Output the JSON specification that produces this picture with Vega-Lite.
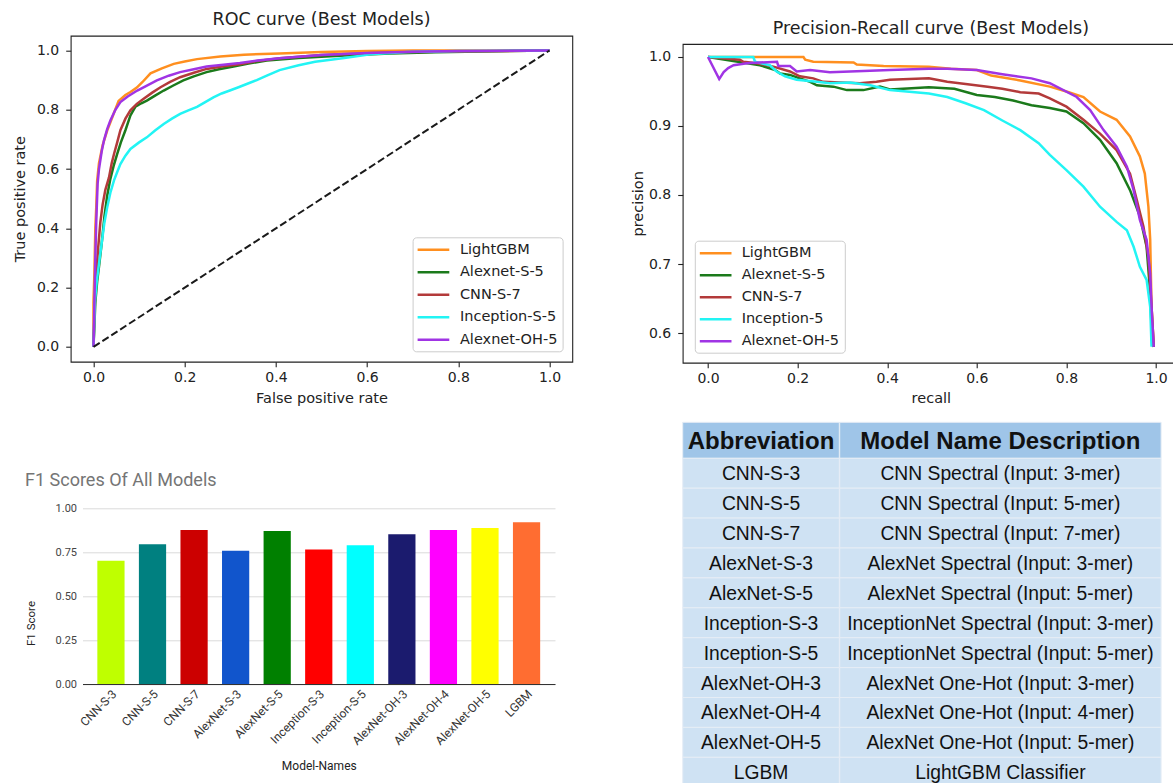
{
  "$schema": "https://vega.github.io/schema/vega-lite/v6.json",
  "autosize": {"type": "none"},
  "padding": {"left": 70.7, "top": 35.7, "right": 1102.3, "bottom": 747.3},
  "background": "white",
  "config": {
    "view": {"stroke": null},
    "axis": {"grid": false, "labelFlush": false}
  },
  "datasets": {
    "diag": [{"fpr": 0, "tpr": 0}, {"fpr": 1, "tpr": 1}],
    "roc": [
      {"model": "LightGBM", "fpr": 0, "tpr": 0}, {"model": "LightGBM", "fpr": 0, "tpr": 0.15}, {"model": "LightGBM", "fpr": 0.002, "tpr": 0.25}, {"model": "LightGBM", "fpr": 0.004, "tpr": 0.4}, {"model": "LightGBM", "fpr": 0.006, "tpr": 0.47}, {"model": "LightGBM", "fpr": 0.008, "tpr": 0.56}, {"model": "LightGBM", "fpr": 0.012, "tpr": 0.62}, {"model": "LightGBM", "fpr": 0.02, "tpr": 0.68}, {"model": "LightGBM", "fpr": 0.03, "tpr": 0.73}, {"model": "LightGBM", "fpr": 0.04, "tpr": 0.77}, {"model": "LightGBM", "fpr": 0.055, "tpr": 0.83}, {"model": "LightGBM", "fpr": 0.07, "tpr": 0.85}, {"model": "LightGBM", "fpr": 0.081, "tpr": 0.86}, {"model": "LightGBM", "fpr": 0.095, "tpr": 0.875}, {"model": "LightGBM", "fpr": 0.107, "tpr": 0.893}, {"model": "LightGBM", "fpr": 0.125, "tpr": 0.923}, {"model": "LightGBM", "fpr": 0.15, "tpr": 0.94}, {"model": "LightGBM", "fpr": 0.176, "tpr": 0.955}, {"model": "LightGBM", "fpr": 0.2, "tpr": 0.963}, {"model": "LightGBM", "fpr": 0.227, "tpr": 0.971}, {"model": "LightGBM", "fpr": 0.278, "tpr": 0.98}, {"model": "LightGBM", "fpr": 0.33, "tpr": 0.986}, {"model": "LightGBM", "fpr": 0.408, "tpr": 0.99}, {"model": "LightGBM", "fpr": 0.5, "tpr": 0.995}, {"model": "LightGBM", "fpr": 0.6, "tpr": 0.998}, {"model": "LightGBM", "fpr": 0.7, "tpr": 1}, {"model": "LightGBM", "fpr": 1, "tpr": 1},
      {"model": "Alexnet-S-5", "fpr": 0, "tpr": 0}, {"model": "Alexnet-S-5", "fpr": 0.004, "tpr": 0.15}, {"model": "Alexnet-S-5", "fpr": 0.008, "tpr": 0.22}, {"model": "Alexnet-S-5", "fpr": 0.012, "tpr": 0.27}, {"model": "Alexnet-S-5", "fpr": 0.018, "tpr": 0.35}, {"model": "Alexnet-S-5", "fpr": 0.024, "tpr": 0.44}, {"model": "Alexnet-S-5", "fpr": 0.03, "tpr": 0.51}, {"model": "Alexnet-S-5", "fpr": 0.037, "tpr": 0.567}, {"model": "Alexnet-S-5", "fpr": 0.044, "tpr": 0.61}, {"model": "Alexnet-S-5", "fpr": 0.052, "tpr": 0.651}, {"model": "Alexnet-S-5", "fpr": 0.06, "tpr": 0.69}, {"model": "Alexnet-S-5", "fpr": 0.07, "tpr": 0.731}, {"model": "Alexnet-S-5", "fpr": 0.081, "tpr": 0.781}, {"model": "Alexnet-S-5", "fpr": 0.092, "tpr": 0.811}, {"model": "Alexnet-S-5", "fpr": 0.105, "tpr": 0.822}, {"model": "Alexnet-S-5", "fpr": 0.117, "tpr": 0.831}, {"model": "Alexnet-S-5", "fpr": 0.135, "tpr": 0.848}, {"model": "Alexnet-S-5", "fpr": 0.154, "tpr": 0.865}, {"model": "Alexnet-S-5", "fpr": 0.175, "tpr": 0.882}, {"model": "Alexnet-S-5", "fpr": 0.197, "tpr": 0.899}, {"model": "Alexnet-S-5", "fpr": 0.22, "tpr": 0.913}, {"model": "Alexnet-S-5", "fpr": 0.248, "tpr": 0.927}, {"model": "Alexnet-S-5", "fpr": 0.275, "tpr": 0.937}, {"model": "Alexnet-S-5", "fpr": 0.307, "tpr": 0.946}, {"model": "Alexnet-S-5", "fpr": 0.34, "tpr": 0.956}, {"model": "Alexnet-S-5", "fpr": 0.38, "tpr": 0.966}, {"model": "Alexnet-S-5", "fpr": 0.45, "tpr": 0.975}, {"model": "Alexnet-S-5", "fpr": 0.55, "tpr": 0.983}, {"model": "Alexnet-S-5", "fpr": 0.65, "tpr": 0.99}, {"model": "Alexnet-S-5", "fpr": 0.75, "tpr": 0.994}, {"model": "Alexnet-S-5", "fpr": 0.85, "tpr": 0.997}, {"model": "Alexnet-S-5", "fpr": 1, "tpr": 1},
      {"model": "CNN-S-7", "fpr": 0, "tpr": 0}, {"model": "CNN-S-7", "fpr": 0.003, "tpr": 0.15}, {"model": "CNN-S-7", "fpr": 0.006, "tpr": 0.25}, {"model": "CNN-S-7", "fpr": 0.01, "tpr": 0.33}, {"model": "CNN-S-7", "fpr": 0.015, "tpr": 0.42}, {"model": "CNN-S-7", "fpr": 0.02, "tpr": 0.48}, {"model": "CNN-S-7", "fpr": 0.026, "tpr": 0.53}, {"model": "CNN-S-7", "fpr": 0.034, "tpr": 0.572}, {"model": "CNN-S-7", "fpr": 0.04, "tpr": 0.62}, {"model": "CNN-S-7", "fpr": 0.045, "tpr": 0.651}, {"model": "CNN-S-7", "fpr": 0.052, "tpr": 0.69}, {"model": "CNN-S-7", "fpr": 0.059, "tpr": 0.731}, {"model": "CNN-S-7", "fpr": 0.07, "tpr": 0.77}, {"model": "CNN-S-7", "fpr": 0.081, "tpr": 0.798}, {"model": "CNN-S-7", "fpr": 0.095, "tpr": 0.82}, {"model": "CNN-S-7", "fpr": 0.11, "tpr": 0.837}, {"model": "CNN-S-7", "fpr": 0.128, "tpr": 0.857}, {"model": "CNN-S-7", "fpr": 0.147, "tpr": 0.876}, {"model": "CNN-S-7", "fpr": 0.168, "tpr": 0.894}, {"model": "CNN-S-7", "fpr": 0.19, "tpr": 0.91}, {"model": "CNN-S-7", "fpr": 0.22, "tpr": 0.925}, {"model": "CNN-S-7", "fpr": 0.248, "tpr": 0.938}, {"model": "CNN-S-7", "fpr": 0.285, "tpr": 0.947}, {"model": "CNN-S-7", "fpr": 0.321, "tpr": 0.954}, {"model": "CNN-S-7", "fpr": 0.36, "tpr": 0.965}, {"model": "CNN-S-7", "fpr": 0.408, "tpr": 0.974}, {"model": "CNN-S-7", "fpr": 0.5, "tpr": 0.985}, {"model": "CNN-S-7", "fpr": 0.6, "tpr": 0.991}, {"model": "CNN-S-7", "fpr": 0.7, "tpr": 0.995}, {"model": "CNN-S-7", "fpr": 0.8, "tpr": 0.997}, {"model": "CNN-S-7", "fpr": 1, "tpr": 1},
      {"model": "Inception-S-5", "fpr": 0, "tpr": 0}, {"model": "Inception-S-5", "fpr": 0.003, "tpr": 0.15}, {"model": "Inception-S-5", "fpr": 0.007, "tpr": 0.22}, {"model": "Inception-S-5", "fpr": 0.012, "tpr": 0.28}, {"model": "Inception-S-5", "fpr": 0.018, "tpr": 0.35}, {"model": "Inception-S-5", "fpr": 0.024, "tpr": 0.42}, {"model": "Inception-S-5", "fpr": 0.03, "tpr": 0.47}, {"model": "Inception-S-5", "fpr": 0.037, "tpr": 0.52}, {"model": "Inception-S-5", "fpr": 0.045, "tpr": 0.562}, {"model": "Inception-S-5", "fpr": 0.052, "tpr": 0.59}, {"model": "Inception-S-5", "fpr": 0.059, "tpr": 0.617}, {"model": "Inception-S-5", "fpr": 0.07, "tpr": 0.645}, {"model": "Inception-S-5", "fpr": 0.081, "tpr": 0.668}, {"model": "Inception-S-5", "fpr": 0.1, "tpr": 0.69}, {"model": "Inception-S-5", "fpr": 0.117, "tpr": 0.707}, {"model": "Inception-S-5", "fpr": 0.135, "tpr": 0.73}, {"model": "Inception-S-5", "fpr": 0.154, "tpr": 0.752}, {"model": "Inception-S-5", "fpr": 0.172, "tpr": 0.77}, {"model": "Inception-S-5", "fpr": 0.19, "tpr": 0.786}, {"model": "Inception-S-5", "fpr": 0.208, "tpr": 0.798}, {"model": "Inception-S-5", "fpr": 0.227, "tpr": 0.81}, {"model": "Inception-S-5", "fpr": 0.245, "tpr": 0.826}, {"model": "Inception-S-5", "fpr": 0.263, "tpr": 0.842}, {"model": "Inception-S-5", "fpr": 0.281, "tpr": 0.855}, {"model": "Inception-S-5", "fpr": 0.299, "tpr": 0.865}, {"model": "Inception-S-5", "fpr": 0.318, "tpr": 0.876}, {"model": "Inception-S-5", "fpr": 0.336, "tpr": 0.887}, {"model": "Inception-S-5", "fpr": 0.358, "tpr": 0.9}, {"model": "Inception-S-5", "fpr": 0.38, "tpr": 0.915}, {"model": "Inception-S-5", "fpr": 0.408, "tpr": 0.934}, {"model": "Inception-S-5", "fpr": 0.45, "tpr": 0.95}, {"model": "Inception-S-5", "fpr": 0.486, "tpr": 0.962}, {"model": "Inception-S-5", "fpr": 0.55, "tpr": 0.975}, {"model": "Inception-S-5", "fpr": 0.607, "tpr": 0.987}, {"model": "Inception-S-5", "fpr": 0.688, "tpr": 0.995}, {"model": "Inception-S-5", "fpr": 0.8, "tpr": 0.998}, {"model": "Inception-S-5", "fpr": 1, "tpr": 1},
      {"model": "Alexnet-OH-5", "fpr": 0, "tpr": 0}, {"model": "Alexnet-OH-5", "fpr": 0.002, "tpr": 0.15}, {"model": "Alexnet-OH-5", "fpr": 0.004, "tpr": 0.3}, {"model": "Alexnet-OH-5", "fpr": 0.006, "tpr": 0.42}, {"model": "Alexnet-OH-5", "fpr": 0.009, "tpr": 0.55}, {"model": "Alexnet-OH-5", "fpr": 0.012, "tpr": 0.6}, {"model": "Alexnet-OH-5", "fpr": 0.018, "tpr": 0.66}, {"model": "Alexnet-OH-5", "fpr": 0.023, "tpr": 0.697}, {"model": "Alexnet-OH-5", "fpr": 0.03, "tpr": 0.735}, {"model": "Alexnet-OH-5", "fpr": 0.037, "tpr": 0.764}, {"model": "Alexnet-OH-5", "fpr": 0.048, "tpr": 0.8}, {"model": "Alexnet-OH-5", "fpr": 0.059, "tpr": 0.826}, {"model": "Alexnet-OH-5", "fpr": 0.075, "tpr": 0.845}, {"model": "Alexnet-OH-5", "fpr": 0.096, "tpr": 0.865}, {"model": "Alexnet-OH-5", "fpr": 0.115, "tpr": 0.88}, {"model": "Alexnet-OH-5", "fpr": 0.139, "tpr": 0.899}, {"model": "Alexnet-OH-5", "fpr": 0.165, "tpr": 0.915}, {"model": "Alexnet-OH-5", "fpr": 0.19, "tpr": 0.927}, {"model": "Alexnet-OH-5", "fpr": 0.22, "tpr": 0.937}, {"model": "Alexnet-OH-5", "fpr": 0.248, "tpr": 0.946}, {"model": "Alexnet-OH-5", "fpr": 0.285, "tpr": 0.952}, {"model": "Alexnet-OH-5", "fpr": 0.321, "tpr": 0.958}, {"model": "Alexnet-OH-5", "fpr": 0.36, "tpr": 0.966}, {"model": "Alexnet-OH-5", "fpr": 0.408, "tpr": 0.974}, {"model": "Alexnet-OH-5", "fpr": 0.5, "tpr": 0.985}, {"model": "Alexnet-OH-5", "fpr": 0.6, "tpr": 0.992}, {"model": "Alexnet-OH-5", "fpr": 0.7, "tpr": 0.996}, {"model": "Alexnet-OH-5", "fpr": 0.8, "tpr": 0.998}, {"model": "Alexnet-OH-5", "fpr": 1, "tpr": 1}
    ],
    "pr": [
      {"model": "LightGBM", "recall": 0, "precision": 1}, {"model": "LightGBM", "recall": 0.213, "precision": 1}, {"model": "LightGBM", "recall": 0.217, "precision": 0.996}, {"model": "LightGBM", "recall": 0.235, "precision": 0.993}, {"model": "LightGBM", "recall": 0.325, "precision": 0.992}, {"model": "LightGBM", "recall": 0.332, "precision": 0.989}, {"model": "LightGBM", "recall": 0.392, "precision": 0.987}, {"model": "LightGBM", "recall": 0.493, "precision": 0.986}, {"model": "LightGBM", "recall": 0.542, "precision": 0.983}, {"model": "LightGBM", "recall": 0.6, "precision": 0.981}, {"model": "LightGBM", "recall": 0.632, "precision": 0.973}, {"model": "LightGBM", "recall": 0.697, "precision": 0.966}, {"model": "LightGBM", "recall": 0.763, "precision": 0.957}, {"model": "LightGBM", "recall": 0.8, "precision": 0.95}, {"model": "LightGBM", "recall": 0.838, "precision": 0.942}, {"model": "LightGBM", "recall": 0.875, "precision": 0.921}, {"model": "LightGBM", "recall": 0.912, "precision": 0.909}, {"model": "LightGBM", "recall": 0.942, "precision": 0.885}, {"model": "LightGBM", "recall": 0.964, "precision": 0.856}, {"model": "LightGBM", "recall": 0.975, "precision": 0.831}, {"model": "LightGBM", "recall": 0.983, "precision": 0.783}, {"model": "LightGBM", "recall": 0.987, "precision": 0.735}, {"model": "LightGBM", "recall": 0.99, "precision": 0.638}, {"model": "LightGBM", "recall": 0.995, "precision": 0.58},
      {"model": "Alexnet-S-5", "recall": 0, "precision": 1}, {"model": "Alexnet-S-5", "recall": 0.116, "precision": 0.988}, {"model": "Alexnet-S-5", "recall": 0.15, "precision": 0.981}, {"model": "Alexnet-S-5", "recall": 0.161, "precision": 0.976}, {"model": "Alexnet-S-5", "recall": 0.183, "precision": 0.974}, {"model": "Alexnet-S-5", "recall": 0.205, "precision": 0.969}, {"model": "Alexnet-S-5", "recall": 0.228, "precision": 0.964}, {"model": "Alexnet-S-5", "recall": 0.243, "precision": 0.959}, {"model": "Alexnet-S-5", "recall": 0.28, "precision": 0.957}, {"model": "Alexnet-S-5", "recall": 0.31, "precision": 0.952}, {"model": "Alexnet-S-5", "recall": 0.347, "precision": 0.952}, {"model": "Alexnet-S-5", "recall": 0.384, "precision": 0.957}, {"model": "Alexnet-S-5", "recall": 0.406, "precision": 0.953}, {"model": "Alexnet-S-5", "recall": 0.493, "precision": 0.956}, {"model": "Alexnet-S-5", "recall": 0.55, "precision": 0.954}, {"model": "Alexnet-S-5", "recall": 0.6, "precision": 0.945}, {"model": "Alexnet-S-5", "recall": 0.64, "precision": 0.942}, {"model": "Alexnet-S-5", "recall": 0.681, "precision": 0.937}, {"model": "Alexnet-S-5", "recall": 0.722, "precision": 0.93}, {"model": "Alexnet-S-5", "recall": 0.763, "precision": 0.926}, {"model": "Alexnet-S-5", "recall": 0.8, "precision": 0.921}, {"model": "Alexnet-S-5", "recall": 0.838, "precision": 0.904}, {"model": "Alexnet-S-5", "recall": 0.875, "precision": 0.88}, {"model": "Alexnet-S-5", "recall": 0.912, "precision": 0.846}, {"model": "Alexnet-S-5", "recall": 0.942, "precision": 0.807}, {"model": "Alexnet-S-5", "recall": 0.964, "precision": 0.769}, {"model": "Alexnet-S-5", "recall": 0.979, "precision": 0.725}, {"model": "Alexnet-S-5", "recall": 0.987, "precision": 0.658}, {"model": "Alexnet-S-5", "recall": 0.991, "precision": 0.59}, {"model": "Alexnet-S-5", "recall": 0.995, "precision": 0.58},
      {"model": "CNN-S-7", "recall": 0, "precision": 1}, {"model": "CNN-S-7", "recall": 0.071, "precision": 0.996}, {"model": "CNN-S-7", "recall": 0.079, "precision": 0.993}, {"model": "CNN-S-7", "recall": 0.109, "precision": 0.991}, {"model": "CNN-S-7", "recall": 0.146, "precision": 0.986}, {"model": "CNN-S-7", "recall": 0.183, "precision": 0.979}, {"model": "CNN-S-7", "recall": 0.205, "precision": 0.972}, {"model": "CNN-S-7", "recall": 0.235, "precision": 0.969}, {"model": "CNN-S-7", "recall": 0.257, "precision": 0.964}, {"model": "CNN-S-7", "recall": 0.295, "precision": 0.963}, {"model": "CNN-S-7", "recall": 0.339, "precision": 0.962}, {"model": "CNN-S-7", "recall": 0.376, "precision": 0.964}, {"model": "CNN-S-7", "recall": 0.406, "precision": 0.967}, {"model": "CNN-S-7", "recall": 0.493, "precision": 0.969}, {"model": "CNN-S-7", "recall": 0.534, "precision": 0.964}, {"model": "CNN-S-7", "recall": 0.575, "precision": 0.961}, {"model": "CNN-S-7", "recall": 0.624, "precision": 0.957}, {"model": "CNN-S-7", "recall": 0.657, "precision": 0.954}, {"model": "CNN-S-7", "recall": 0.697, "precision": 0.949}, {"model": "CNN-S-7", "recall": 0.738, "precision": 0.947}, {"model": "CNN-S-7", "recall": 0.763, "precision": 0.94}, {"model": "CNN-S-7", "recall": 0.8, "precision": 0.928}, {"model": "CNN-S-7", "recall": 0.838, "precision": 0.909}, {"model": "CNN-S-7", "recall": 0.875, "precision": 0.889}, {"model": "CNN-S-7", "recall": 0.912, "precision": 0.865}, {"model": "CNN-S-7", "recall": 0.942, "precision": 0.831}, {"model": "CNN-S-7", "recall": 0.957, "precision": 0.793}, {"model": "CNN-S-7", "recall": 0.972, "precision": 0.754}, {"model": "CNN-S-7", "recall": 0.983, "precision": 0.71}, {"model": "CNN-S-7", "recall": 0.99, "precision": 0.638}, {"model": "CNN-S-7", "recall": 0.995, "precision": 0.58},
      {"model": "Inception-5", "recall": 0, "precision": 1}, {"model": "Inception-5", "recall": 0.101, "precision": 1}, {"model": "Inception-5", "recall": 0.105, "precision": 0.993}, {"model": "Inception-5", "recall": 0.138, "precision": 0.988}, {"model": "Inception-5", "recall": 0.153, "precision": 0.979}, {"model": "Inception-5", "recall": 0.172, "precision": 0.972}, {"model": "Inception-5", "recall": 0.198, "precision": 0.967}, {"model": "Inception-5", "recall": 0.243, "precision": 0.964}, {"model": "Inception-5", "recall": 0.272, "precision": 0.962}, {"model": "Inception-5", "recall": 0.317, "precision": 0.963}, {"model": "Inception-5", "recall": 0.362, "precision": 0.959}, {"model": "Inception-5", "recall": 0.406, "precision": 0.952}, {"model": "Inception-5", "recall": 0.493, "precision": 0.947}, {"model": "Inception-5", "recall": 0.534, "precision": 0.942}, {"model": "Inception-5", "recall": 0.575, "precision": 0.933}, {"model": "Inception-5", "recall": 0.616, "precision": 0.923}, {"model": "Inception-5", "recall": 0.657, "precision": 0.908}, {"model": "Inception-5", "recall": 0.697, "precision": 0.894}, {"model": "Inception-5", "recall": 0.738, "precision": 0.875}, {"model": "Inception-5", "recall": 0.763, "precision": 0.858}, {"model": "Inception-5", "recall": 0.8, "precision": 0.836}, {"model": "Inception-5", "recall": 0.838, "precision": 0.812}, {"model": "Inception-5", "recall": 0.875, "precision": 0.783}, {"model": "Inception-5", "recall": 0.912, "precision": 0.761}, {"model": "Inception-5", "recall": 0.935, "precision": 0.749}, {"model": "Inception-5", "recall": 0.95, "precision": 0.725}, {"model": "Inception-5", "recall": 0.964, "precision": 0.696}, {"model": "Inception-5", "recall": 0.979, "precision": 0.677}, {"model": "Inception-5", "recall": 0.987, "precision": 0.638}, {"model": "Inception-5", "recall": 0.99, "precision": 0.58},
      {"model": "Alexnet-OH-5", "recall": 0, "precision": 1}, {"model": "Alexnet-OH-5", "recall": 0.025, "precision": 0.968}, {"model": "Alexnet-OH-5", "recall": 0.035, "precision": 0.978}, {"model": "Alexnet-OH-5", "recall": 0.045, "precision": 0.984}, {"model": "Alexnet-OH-5", "recall": 0.057, "precision": 0.988}, {"model": "Alexnet-OH-5", "recall": 0.087, "precision": 0.991}, {"model": "Alexnet-OH-5", "recall": 0.116, "precision": 0.992}, {"model": "Alexnet-OH-5", "recall": 0.154, "precision": 0.993}, {"model": "Alexnet-OH-5", "recall": 0.157, "precision": 0.987}, {"model": "Alexnet-OH-5", "recall": 0.183, "precision": 0.987}, {"model": "Alexnet-OH-5", "recall": 0.198, "precision": 0.979}, {"model": "Alexnet-OH-5", "recall": 0.228, "precision": 0.981}, {"model": "Alexnet-OH-5", "recall": 0.272, "precision": 0.978}, {"model": "Alexnet-OH-5", "recall": 0.317, "precision": 0.979}, {"model": "Alexnet-OH-5", "recall": 0.362, "precision": 0.98}, {"model": "Alexnet-OH-5", "recall": 0.406, "precision": 0.981}, {"model": "Alexnet-OH-5", "recall": 0.493, "precision": 0.983}, {"model": "Alexnet-OH-5", "recall": 0.534, "precision": 0.983}, {"model": "Alexnet-OH-5", "recall": 0.6, "precision": 0.981}, {"model": "Alexnet-OH-5", "recall": 0.657, "precision": 0.975}, {"model": "Alexnet-OH-5", "recall": 0.722, "precision": 0.969}, {"model": "Alexnet-OH-5", "recall": 0.763, "precision": 0.962}, {"model": "Alexnet-OH-5", "recall": 0.823, "precision": 0.942}, {"model": "Alexnet-OH-5", "recall": 0.853, "precision": 0.923}, {"model": "Alexnet-OH-5", "recall": 0.883, "precision": 0.894}, {"model": "Alexnet-OH-5", "recall": 0.912, "precision": 0.87}, {"model": "Alexnet-OH-5", "recall": 0.935, "precision": 0.841}, {"model": "Alexnet-OH-5", "recall": 0.95, "precision": 0.807}, {"model": "Alexnet-OH-5", "recall": 0.964, "precision": 0.764}, {"model": "Alexnet-OH-5", "recall": 0.979, "precision": 0.735}, {"model": "Alexnet-OH-5", "recall": 0.987, "precision": 0.687}, {"model": "Alexnet-OH-5", "recall": 0.99, "precision": 0.638}, {"model": "Alexnet-OH-5", "recall": 0.995, "precision": 0.58}
    ],
    "f1": [
      {"model": "CNN-S-3", "f1": 0.702}, {"model": "CNN-S-5", "f1": 0.795}, {"model": "CNN-S-7", "f1": 0.877}, {"model": "AlexNet-S-3", "f1": 0.759}, {"model": "AlexNet-S-5", "f1": 0.871}, {"model": "Inception-S-3", "f1": 0.765}, {"model": "Inception-S-5", "f1": 0.789}, {"model": "AlexNet-OH-3", "f1": 0.852}, {"model": "AlexNet-OH-4", "f1": 0.877}, {"model": "AlexNet-OH-5", "f1": 0.888}, {"model": "LGBM", "f1": 0.92}
    ],
    "abbrev": [
      {"abbr": "CNN-S-3", "desc": "CNN Spectral (Input: 3-mer)"},
      {"abbr": "CNN-S-5", "desc": "CNN Spectral (Input: 5-mer)"},
      {"abbr": "CNN-S-7", "desc": "CNN Spectral (Input: 7-mer)"},
      {"abbr": "AlexNet-S-3", "desc": "AlexNet Spectral (Input: 3-mer)"},
      {"abbr": "AlexNet-S-5", "desc": "AlexNet Spectral (Input: 5-mer)"},
      {"abbr": "Inception-S-3", "desc": "InceptionNet Spectral (Input: 3-mer)"},
      {"abbr": "Inception-S-5", "desc": "InceptionNet Spectral (Input: 5-mer)"},
      {"abbr": "AlexNet-OH-3", "desc": "AlexNet One-Hot (Input: 3-mer)"},
      {"abbr": "AlexNet-OH-4", "desc": "AlexNet One-Hot (Input: 4-mer)"},
      {"abbr": "AlexNet-OH-5", "desc": "AlexNet One-Hot (Input: 5-mer)"},
      {"abbr": "LGBM", "desc": "LightGBM Classifier"}
    ]
  },
  "hconcat": [
    {
      "vconcat": [
        {
          "width": 501.6,
          "height": 326,
          "view": {"stroke": "#222", "strokeWidth": 1.1},
          "title": {"text": "ROC curve (Best Models)", "frame": "group", "font": "DejaVu Sans", "fontSize": 17.5, "fontWeight": "normal", "color": "#222", "offset": 7},
          "layer": [
            {
              "data": {"name": "roc"},
              "mark": {"type": "line", "strokeWidth": 2.5},
              "encoding": {
                "x": {"field": "fpr", "type": "quantitative", "scale": {"domain": [-0.05, 1.05], "nice": false, "zero": false},
                  "axis": {"values": [0, 0.2, 0.4, 0.6, 0.8, 1], "format": ".1f", "title": "False positive rate", "domain": false, "tickSize": 5, "tickWidth": 1.1, "tickColor": "#222", "labelPadding": 3.5, "labelFont": "DejaVu Sans", "labelFontSize": 14, "labelColor": "#222", "titleFont": "DejaVu Sans", "titleFontSize": 14.5, "titleFontWeight": "normal", "titleColor": "#222", "titleY": 36.3, "titleBaseline": "middle"}},
                "y": {"field": "tpr", "type": "quantitative", "scale": {"domain": [-0.05, 1.05], "nice": false, "zero": false},
                  "axis": {"values": [0, 0.2, 0.4, 0.6, 0.8, 1], "format": ".1f", "title": "True positive rate", "domain": false, "tickSize": 5, "tickWidth": 1.1, "tickColor": "#222", "labelPadding": 7, "labelFont": "DejaVu Sans", "labelFontSize": 14, "labelColor": "#222", "titleFont": "DejaVu Sans", "titleFontSize": 14.5, "titleFontWeight": "normal", "titleColor": "#222", "titleX": -50.3, "titleBaseline": "middle"}},
                "color": {"field": "model", "type": "nominal",
                  "scale": {"domain": ["LightGBM", "Alexnet-S-5", "CNN-S-7", "Inception-S-5", "Alexnet-OH-5"], "range": ["#ff8f1f", "#1b7a1b", "#b33a3a", "#22f4f4", "#a034e4"]},
                  "legend": {"title": null, "orient": "none", "legendX": 341.9, "legendY": 201.6, "direction": "vertical", "symbolType": "M-2.64,0H2.64", "symbolSize": 144, "symbolStrokeWidth": 2.5, "symbolOffset": 8.35, "labelOffset": 19, "rowPadding": 7.5, "padding": 5, "labelFont": "DejaVu Sans", "labelFontSize": 14.5, "labelColor": "#222", "fillColor": "rgba(255,255,255,0.85)", "strokeColor": "#cccccc", "cornerRadius": 3.5}}
              }
            },
            {
              "data": {"name": "diag"},
              "mark": {"type": "line", "color": "#1a1a1a", "strokeWidth": 2, "strokeDash": [7.4, 3.2]},
              "encoding": {
                "x": {"field": "fpr", "type": "quantitative"},
                "y": {"field": "tpr", "type": "quantitative"}
              }
            }
          ]
        },
        {
          "hconcat": [
            {"width": 1, "height": 1, "data": {"values": []}, "mark": "point"},
            {
              "width": 472.5,
              "height": 175.7,
              "title": {"text": "F1 Scores Of All Models", "anchor": "start", "frame": "group", "dx": -57.5, "offset": 12, "font": "Roboto", "fontSize": 18, "fontWeight": "normal", "color": "#757575"},
              "data": {"name": "f1"},
              "mark": {"type": "bar"},
              "encoding": {
                "x": {"field": "model", "type": "nominal", "sort": null, "scale": {"paddingInner": 0.345, "paddingOuter": 0.357},
                  "axis": {"title": "Model-Names", "labelAngle": -45, "labelOverlap": false, "ticks": false, "domainColor": "#333", "domainWidth": 1, "labelPadding": 4, "labelFont": "Roboto", "labelFontSize": 12, "labelColor": "#333", "titleFont": "Roboto", "titleFontSize": 12, "titleFontWeight": "normal", "titleColor": "#222", "titleY": 81, "titleBaseline": "middle"}},
                "y": {"field": "f1", "type": "quantitative", "scale": {"domain": [0, 1], "nice": false},
                  "axis": {"values": [0, 0.25, 0.5, 0.75, 1], "format": ".2f", "grid": true, "gridColor": "#dadada", "domain": false, "ticks": false, "labelPadding": 6, "labelFont": "Roboto", "labelFontSize": 11, "labelColor": "#444", "title": "F1 Score", "titleFont": "Roboto", "titleFontSize": 11.5, "titleFontWeight": "normal", "titleColor": "#222", "titleX": -51.5, "titleY": 114.7, "titleBaseline": "middle"}},
                "color": {"field": "model", "type": "nominal",
                  "scale": {"domain": ["CNN-S-3", "CNN-S-5", "CNN-S-7", "AlexNet-S-3", "AlexNet-S-5", "Inception-S-3", "Inception-S-5", "AlexNet-OH-3", "AlexNet-OH-4", "AlexNet-OH-5", "LGBM"],
                    "range": ["#bfff00", "#008080", "#cc0000", "#1155cc", "#008000", "#ff0000", "#00ffff", "#1b1b6e", "#ff00ff", "#ffff00", "#ff6d31"]},
                  "legend": null}
              }
            }
          ],
          "bounds": "flush",
          "spacing": 10.8,
          "resolve": {"scale": {"color": "independent"}, "legend": {"color": "independent"}}
        }
      ],
      "bounds": "flush",
      "spacing": 146.6,
      "resolve": {"scale": {"color": "independent"}, "legend": {"color": "independent"}}
    },
    {
      "hconcat": [
        {"width": 1, "height": 1, "data": {"values": []}, "mark": "point"},
        {
          "vconcat": [
            {
              "vconcat": [
                {"width": 1, "height": 1, "data": {"values": []}, "mark": "point"},
                {
                  "width": 496.3,
                  "height": 318.7,
                  "view": {"stroke": "#222", "strokeWidth": 1.1},
                  "title": {"text": "Precision-Recall curve (Best Models)", "frame": "group", "font": "DejaVu Sans", "fontSize": 17.5, "fontWeight": "normal", "color": "#222", "offset": 7},
                  "data": {"name": "pr"},
                  "mark": {"type": "line", "strokeWidth": 2.5},
                  "encoding": {
                    "x": {"field": "recall", "type": "quantitative", "scale": {"domain": [-0.0565, 1.0513], "nice": false, "zero": false},
                      "axis": {"values": [0, 0.2, 0.4, 0.6, 0.8, 1], "format": ".1f", "title": "recall", "domain": false, "tickSize": 5, "tickWidth": 1.1, "tickColor": "#222", "labelPadding": 3.5, "labelFont": "DejaVu Sans", "labelFontSize": 14, "labelColor": "#222", "titleFont": "DejaVu Sans", "titleFontSize": 14.5, "titleFontWeight": "normal", "titleColor": "#222", "titleY": 35.6, "titleBaseline": "middle"}},
                    "y": {"field": "precision", "type": "quantitative", "scale": {"domain": [0.557, 1.0188], "nice": false, "zero": false},
                      "axis": {"values": [0.6, 0.7, 0.8, 0.9, 1], "format": ".1f", "title": "precision", "domain": false, "tickSize": 5, "tickWidth": 1.1, "tickColor": "#222", "labelPadding": 7, "labelFont": "DejaVu Sans", "labelFontSize": 14, "labelColor": "#222", "titleFont": "DejaVu Sans", "titleFontSize": 14.5, "titleFontWeight": "normal", "titleColor": "#222", "titleX": -44.1, "titleBaseline": "middle"}},
                    "color": {"field": "model", "type": "nominal",
                      "scale": {"domain": ["LightGBM", "Alexnet-S-5", "CNN-S-7", "Inception-5", "Alexnet-OH-5"], "range": ["#ff8f1f", "#1b7a1b", "#b33a3a", "#22f4f4", "#a034e4"]},
                      "legend": {"title": null, "orient": "none", "legendX": 12.1, "legendY": 196.7, "direction": "vertical", "symbolType": "M-2.64,0H2.64", "symbolSize": 144, "symbolStrokeWidth": 2.5, "symbolOffset": 8.35, "labelOffset": 18.5, "rowPadding": 7, "padding": 5, "labelFont": "DejaVu Sans", "labelFontSize": 14.5, "labelColor": "#222", "fillColor": "rgba(255,255,255,0.85)", "strokeColor": "#cccccc", "cornerRadius": 3.5}}
                  }
                }
              ],
              "bounds": "flush",
              "spacing": 7.3,
              "resolve": {"scale": {"color": "independent"}, "legend": {"color": "independent"}}
            },
            {
              "vconcat": [
                {
                  "hconcat": [
                    {
                      "width": 156.6,
                      "height": 36,
                      "data": {"values": [{"h": "Abbreviation"}]},
                      "encoding": {"y": {"field": "h", "type": "nominal", "axis": null, "scale": {"paddingInner": 0, "paddingOuter": 0}}},
                      "layer": [
                        {"mark": {"type": "rect", "fill": "#9fc5e8", "stroke": "#e6edf5", "strokeWidth": 1}},
                        {"mark": {"type": "text", "font": "Liberation Sans", "fontSize": 24, "fontWeight": "bold", "color": "#111", "dy": 2}, "encoding": {"text": {"field": "h"}}}
                      ]
                    },
                    {
                      "width": 321.4,
                      "height": 36,
                      "data": {"values": [{"h": "Model Name Description"}]},
                      "encoding": {"y": {"field": "h", "type": "nominal", "axis": null, "scale": {"paddingInner": 0, "paddingOuter": 0}}},
                      "layer": [
                        {"mark": {"type": "rect", "fill": "#9fc5e8", "stroke": "#e6edf5", "strokeWidth": 1}},
                        {"mark": {"type": "text", "font": "Liberation Sans", "fontSize": 24, "fontWeight": "bold", "color": "#111", "dy": 2}, "encoding": {"text": {"field": "h"}}}
                      ]
                    }
                  ],
                  "bounds": "flush",
                  "spacing": 0
                },
                {
                  "hconcat": [
                    {
                      "width": 156.6,
                      "height": 328.9,
                      "data": {"name": "abbrev"},
                      "encoding": {"y": {"field": "abbr", "type": "nominal", "sort": null, "axis": null, "scale": {"paddingInner": 0, "paddingOuter": 0}}},
                      "layer": [
                        {"mark": {"type": "rect", "fill": "#cfe2f3", "stroke": "#e6edf5", "strokeWidth": 1}},
                        {"mark": {"type": "text", "font": "Liberation Sans", "fontSize": 19.3, "color": "#111", "dy": 1}, "encoding": {"text": {"field": "abbr"}}}
                      ]
                    },
                    {
                      "width": 321.4,
                      "height": 328.9,
                      "data": {"name": "abbrev"},
                      "encoding": {"y": {"field": "abbr", "type": "nominal", "sort": null, "axis": null, "scale": {"paddingInner": 0, "paddingOuter": 0}}},
                      "layer": [
                        {"mark": {"type": "rect", "fill": "#cfe2f3", "stroke": "#e6edf5", "strokeWidth": 1}},
                        {"mark": {"type": "text", "font": "Liberation Sans", "fontSize": 19.3, "color": "#111", "dy": 1}, "encoding": {"text": {"field": "desc"}}}
                      ]
                    }
                  ],
                  "bounds": "flush",
                  "spacing": 0
                }
              ],
              "bounds": "flush",
              "spacing": 36
            }
          ],
          "bounds": "flush",
          "spacing": 386.6,
          "resolve": {"scale": {"color": "independent"}, "legend": {"color": "independent"}}
        }
      ],
      "bounds": "flush",
      "spacing": 611,
      "resolve": {"scale": {"color": "independent"}, "legend": {"color": "independent"}}
    }
  ],
  "bounds": "flush",
  "spacing": 0,
  "resolve": {"scale": {"color": "independent"}, "legend": {"color": "independent"}}
}
